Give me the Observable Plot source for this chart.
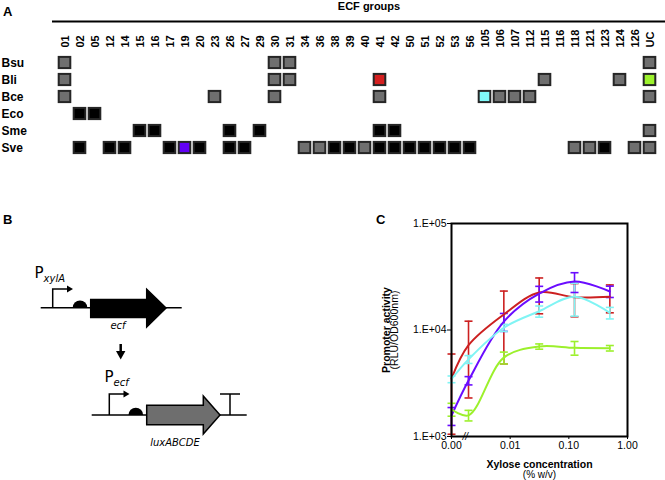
<!DOCTYPE html>
<html><head><meta charset="utf-8">
<script src="https://cdn.jsdelivr.net/npm/d3@7"></script>
<script src="https://cdn.jsdelivr.net/npm/@observablehq/plot@0.6"></script>
<style>
body{margin:0;background:#fff;font-family:"Liberation Sans",Arial,sans-serif;}
#wrap{position:relative;width:665px;height:480px;overflow:hidden;background:#fff;}
.abs{position:absolute;}
#ov{position:absolute;left:0;top:0;pointer-events:none;}
.ylab{position:absolute;font-size:10.5px;line-height:10px;white-space:nowrap;color:#000;
  transform:translate(-50%,-50%) rotate(-90deg);transform-origin:center center;}
</style></head><body>
<div id="wrap">
  <div id="a" class="abs" style="left:0;top:0"></div>
  <div id="c" class="abs" style="left:340px;top:200px"></div>
  <svg id="ov" width="665" height="480"></svg>
  <div class="ylab" style="left:385.5px;top:329.5px;font-weight:bold">Promoter activity</div>
  <div class="ylab" style="left:393.5px;top:329.5px;">(RLU/OD600nm)</div>
</div>
<script>
// ---------- Panel A data ----------
const groups = ["01","02","05","12","14","15","16","17","19","20","23","26","27","29","30","31","34","36","38","39","40","41","42","50","51","52","53","56","105","106","107","112","115","116","118","121","123","124","126","UC"];
const species = ["Bsu","Bli","Bce","Eco","Sme","Sve"];
const bsuCells = [["01","shared"],["30","shared"],["31","shared"],["UC","shared"]];
const bliCells = [["01","shared"],["30","shared"],["31","shared"],["41","ECF41 Bli"],["115","shared"],["124","shared"],["UC","UC Bli"]];
const bceCells = [["01","shared"],["23","shared"],["30","shared"],["41","shared"],["105","ECF105 Bce"],["106","shared"],["107","shared"],["112","shared"],["UC","shared"]];
const ecoCells = [["02","other"],["05","other"]];
const smeCells = [["15","other"],["16","other"],["26","other"],["29","other"],["41","other"],["42","other"],["UC","shared"]];
const sveCells = [["02","other"],["12","other"],["14","other"],["17","other"],["19","ECF19 Sve"],["20","other"],["26","other"],["27","other"],["34","shared"],["36","shared"],["38","other"],["39","other"],["40","shared"],["41","other"],["42","other"],["50","other"],["51","other"],["52","other"],["53","other"],["56","other"],["118","shared"],["121","shared"],["123","other"],["126","shared"],["UC","shared"]];
const kinds = ["shared","other","ECF41 Bli","UC Bli","ECF105 Bce","ECF19 Sve"];
const kindColors = ["#6f6f6f","#000000","#d41f1f","#9cf22c","#80fafa","#6200f5"];

// ---------- Panel C data ----------
const xylose = [0, 0.00195, 0.0078, 0.03125, 0.125, 0.5];
const seriesNames = ["ECF41 (Bli)","ECF19 (Sve)","ECF105 (Bce)","UC (Bli)"];
const seriesColors = ["#cc2020","#6a0cff","#80f4f4","#9cf02c"];
const redMean = [3500, 7200, 14000, 22500, 20300, 20500];
const redErr  = [2450, 4900, 9200, 8300, 7000, 6000];
const purpleMean = [1570, 3350, 12000, 22000, 28500, 23000];
const purpleErr  = [300, 300, 2300, 3700, 6000, 2800];
const cyanMean = [3450, 5300, 10500, 15000, 20500, 14500];
const cyanErr  = [250, 450, 800, 1800, 7000, 1800];
const greenMean = [1800, 1580, 5500, 7000, 6800, 6750];
const greenErr  = [250, 180, 700, 400, 1000, 400];
const yTicks = [1e3, 1e4, 1e5];
const xTicks = [0.001, 0.01, 0.1, 1];

const FONT = "Liberation Sans, Arial, sans-serif";

// ---------- Panel A ----------
const cellRows = [];
[[bsuCells,"Bsu"],[bliCells,"Bli"],[bceCells,"Bce"],[ecoCells,"Eco"],[smeCells,"Sme"],[sveCells,"Sve"]]
  .forEach(([list, sp]) => list.forEach(([g,k]) => cellRows.push({species: sp, group: g, kind: k})));

const plotA = Plot.plot({
  width: 665, height: 160,
  marginLeft: 49, marginRight: 1, marginTop: 51, marginBottom: 2,
  style: {fontFamily: FONT, fontSize: "11px", fontWeight: "bold", background: "transparent"},
  x: {type: "band", domain: groups, padding: 0, axis: "top", tickSize: 0, tickRotate: -90, tickPadding: 4, label: null},
  y: {type: "band", domain: species, padding: 0, axis: null},
  color: {type: "ordinal", domain: kinds, range: kindColors},
  marks: [
    Plot.cell(cellRows, {x: "group", y: "species", fill: "kind", stroke: "#262626", strokeWidth: 2,
      insetLeft: 1.7, insetRight: 1.7, insetTop: 2.9, insetBottom: 2.9}),
    Plot.text(species, {y: d => d, frameAnchor: "left", dx: -48, textAnchor: "start", fontSize: 12, fontWeight: "bold"}),
    Plot.text(["ECF groups"], {frameAnchor: "top", lineAnchor: "middle", dy: -45, dx: 12, fontSize: 11, fontWeight: "bold"})
  ]
});
d3.select(plotA).append("line").attr("x1", 52).attr("x2", 665).attr("y1", 21.5).attr("y2", 21.5)
  .attr("stroke", "#000").attr("stroke-width", 1.8);
document.getElementById("a").appendChild(plotA);

// ---------- Panel C ----------
const pts = [];
[[redMean, redErr],[purpleMean, purpleErr],[cyanMean, cyanErr],[greenMean, greenErr]].forEach(([m, e], si) => {
  xylose.forEach((x, i) => pts.push({series: seriesNames[si], x, xp: x === 0 ? 0.001 : x, mean: m[i], lo: m[i] - e[i], hi: m[i] + e[i]}));
});
const cap = {draw(ctx, size) { const r = Math.sqrt(size / Math.PI); ctx.moveTo(-r, 0); ctx.lineTo(r, 0); }};

const plotC = Plot.plot({
  width: 300, height: 280,
  marginLeft: 111, marginRight: 13, marginTop: 23, marginBottom: 44,
  style: {fontFamily: FONT, fontSize: "10.5px", background: "transparent", color: "#000"},
  x: {type: "log", domain: [0.001, 1], ticks: xTicks, tickFormat: d3.format(".2f"), label: null, tickSize: 3, tickPadding: 2},
  y: {type: "log", domain: [1e3, 1e5], ticks: yTicks, tickFormat: d => "1.E+0" + Math.round(Math.log10(d)), label: null, tickSize: 4, tickPadding: 1},
  color: {type: "ordinal", domain: seriesNames, range: seriesColors},
  marks: [
    Plot.ruleX(pts, {x: "xp", y1: "lo", y2: "hi", stroke: "series", strokeWidth: 1.6}),
    Plot.dot(pts, {x: "xp", y: "lo", symbol: cap, r: 4, stroke: "series", strokeWidth: 1.6, fill: "none"}),
    Plot.dot(pts, {x: "xp", y: "hi", symbol: cap, r: 4, stroke: "series", strokeWidth: 1.6, fill: "none"}),
    Plot.line(pts, {x: "xp", y: "mean", z: "series", stroke: "series", curve: "catmull-rom", strokeWidth: 2}),
    Plot.frame({stroke: "#000", strokeWidth: 2}),
    Plot.text(["//"], {frameAnchor: "bottom-left", dx: 11, dy: 0, lineAnchor: "middle", fontStyle: "italic", fontSize: 10}),
    Plot.text(["Xylose concentration"], {frameAnchor: "bottom", lineAnchor: "middle", dy: 28, fontWeight: "bold", fontSize: 10.5}),
    Plot.text(["(% w/v)"], {frameAnchor: "bottom", lineAnchor: "middle", dy: 38, fontSize: 10})
  ]
});
document.getElementById("c").appendChild(plotC);

// ---------- Panel letters and schematic B ----------
const ov = d3.select("#ov").style("font-family", FONT);
[["A", 3, 15.5], ["B", 3, 223.5], ["C", 376, 224]].forEach(([t, x, y]) =>
  ov.append("text").attr("x", x).attr("y", y).attr("font-size", 13).attr("font-weight", "bold").text(t));

function line(x1, y1, x2, y2, w) {
  ov.append("line").attr("x1", x1).attr("y1", y1).attr("x2", x2).attr("y2", y2).attr("stroke", "#000").attr("stroke-width", w || 1.5);
}
function poly(pts, fill, stroke) {
  ov.append("polygon").attr("points", pts.map(p => p.join(",")).join(" ")).attr("fill", fill)
    .attr("stroke", stroke || "none").attr("stroke-width", 1.5).attr("stroke-linejoin", "miter");
}
function promoter(x, yb, yt, xe) {
  ov.append("path").attr("d", `M${x},${yb}V${yt}H${xe - 5}`).attr("fill", "none").attr("stroke", "#000").attr("stroke-width", 1.5);
  poly([[xe - 6, yt - 3.5], [xe, yt], [xe - 6, yt + 3.5]], "#000");
}
function rbs(cx, y, r) {
  ov.append("path").attr("d", `M${cx - r},${y}A${r},${r} 0 0 1 ${cx + r},${y}Z`).attr("fill", "#000");
}
function label(x, y, main, sub, size, subSize) {
  const t = ov.append("text").attr("x", x).attr("y", y).attr("font-size", size).attr("font-family", "DejaVu Sans, Liberation Sans, sans-serif");
  t.append("tspan").text(main);
  t.append("tspan").attr("dy", 4).attr("font-size", subSize).attr("font-style", "italic").text(sub);
}
// construct 1
line(40.7, 307.7, 181.7, 307.7);
promoter(52.7, 307.7, 289, 73);
rbs(80, 307.7, 7.3);
poly([[90.7, 299.5], [146.7, 299.5], [146.7, 289.3], [166, 308], [146.7, 327], [146.7, 317.5], [90.7, 317.5]], "#000", "#000");
ov.append("text").attr("x", 118).attr("y", 329).attr("text-anchor", "middle").attr("font-size", 10)
  .attr("font-style", "italic").attr("font-family", "DejaVu Sans, sans-serif").text("ecf");
label(34.5, 277.5, "P", "xylA", 15, 10);
// arrow down
line(120.7, 344, 120.7, 352, 2.5);
poly([[116, 351], [125.4, 351], [120.7, 359.5]], "#000");
// construct 2
label(104.5, 381.7, "P", "ecf", 15, 10);
line(91.7, 415, 246.7, 415);
promoter(109.3, 415, 394, 129.5);
rbs(135.8, 415, 7.3);
poly([[146.7, 405.3], [203.3, 405.3], [203.3, 396], [220, 415], [203.3, 434], [203.3, 424.7], [146.7, 424.7]], "#6e6e6e", "#000");
line(230, 415, 230, 394);
line(220, 394, 240, 394);
ov.append("text").attr("x", 175).attr("y", 446).attr("text-anchor", "middle").attr("font-size", 10)
  .attr("font-style", "italic").attr("font-family", "DejaVu Sans, sans-serif").text("luxABCDE");
</script>
</body></html>
